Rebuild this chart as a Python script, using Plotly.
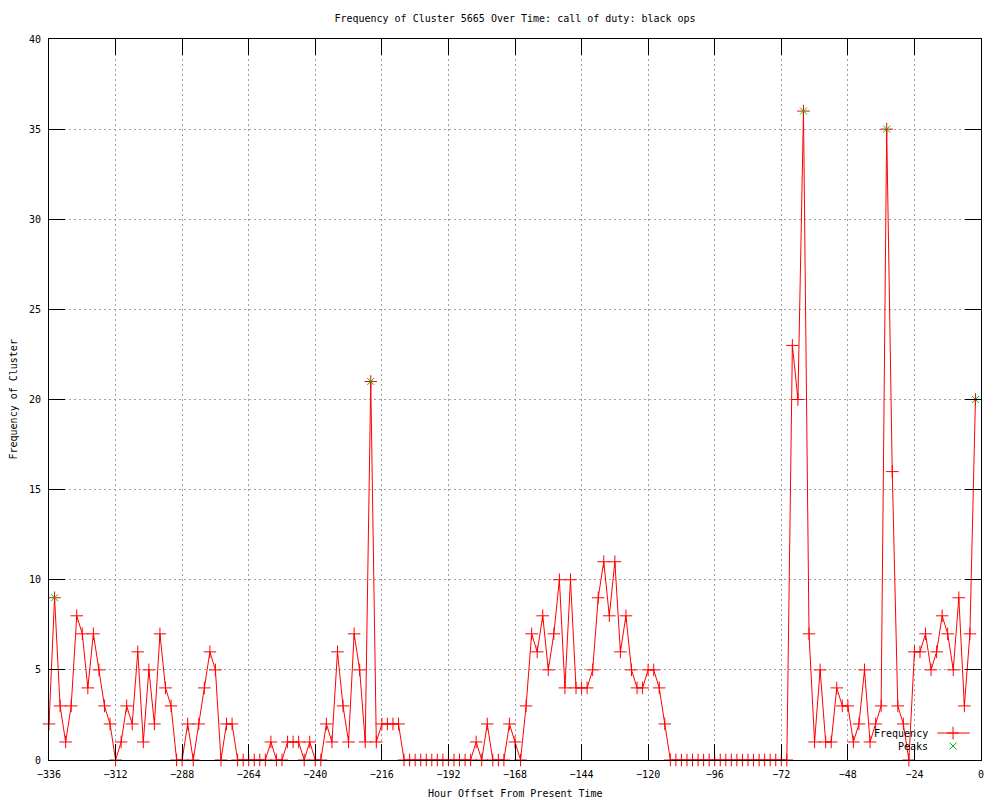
import plotly.graph_objects as go

# Hour offsets (every 2 hours) and cluster frequency values
hours = list(range(-336, 0, 2))
frequency = [
    2, 9, 3, 1, 3, 8, 7, 4, 7, 5, 3, 2, 0, 1, 3, 2, 6, 1, 5, 2, 7, 4, 3, 0, 0, 2, 0, 2, 4, 6, 5, 0,
    2, 2, 0, 0, 0, 0, 0, 0, 1, 0, 0, 1, 1, 1, 0, 1, 0, 0, 2, 1, 6, 3, 1, 7, 5, 1, 21, 1, 2, 2, 2, 2,
    0, 0, 0, 0, 0, 0, 0, 0, 0, 0, 0, 0, 0,
    1, 0, 2, 0, 0, 0, 2, 1, 0, 3, 7, 6, 8, 5, 7, 10, 4, 10, 4, 4, 4, 5, 9, 11, 8, 11, 6, 8, 5, 4, 4,
    5, 5, 4, 2,
    0, 0, 0, 0, 0, 0, 0, 0, 0, 0, 0, 0, 0, 0, 0, 0, 0, 0, 0, 0, 0, 0,
    23, 20, 36, 7, 1, 5, 1, 1, 4, 3, 3, 1, 2, 5, 1, 2, 3, 35, 16, 3, 2, 0, 6, 6, 7, 5, 6, 8, 7, 5,
    9, 3, 7, 20,
]
peak_hours = [-334, -220, -64, -34, -2]
peak_values = [9, 21, 36, 35, 20]

x_ticks = list(range(-336, 1, 24))
y_ticks = list(range(0, 41, 5))

RED = "#ff0000"
GREEN = "#00c000"
FONT = "DejaVu Sans Mono"

# the page body adds an 8px margin, so the figure is 992x792 placed at (8, 8)
FIG_W, FIG_H = 992, 792

fig = go.Figure()
fig.add_trace(go.Scatter(
    x=hours, y=frequency, mode="lines+markers", name="Frequency",
    line=dict(color=RED, width=1),
    marker=dict(symbol="cross-thin", size=9, line=dict(color=RED, width=1), color=RED),
    cliponaxis=False, showlegend=False,
))
fig.add_trace(go.Scatter(
    x=peak_hours, y=peak_values, mode="markers", name="Peaks",
    marker=dict(symbol="x-thin", size=7, line=dict(color=GREEN, width=1), color=GREEN),
    cliponaxis=False, showlegend=False,
))

# legend keys (gnuplot style: text left, sample right)
fig.add_trace(go.Scatter(
    x=[0.953, 0.970, 0.988], y=[0.0374, 0.0374, 0.0374], mode="lines",
    line=dict(color=RED, width=1), xaxis="x2", yaxis="y2", showlegend=False, hoverinfo="skip",
))
fig.add_trace(go.Scatter(
    x=[0.970], y=[0.0374], mode="markers",
    marker=dict(symbol="cross-thin", size=9, line=dict(color=RED, width=1)),
    xaxis="x2", yaxis="y2", showlegend=False, hoverinfo="skip",
))
fig.add_trace(go.Scatter(
    x=[0.970], y=[0.0194], mode="markers",
    marker=dict(symbol="x-thin", size=7, line=dict(color=GREEN, width=1)),
    xaxis="x2", yaxis="y2", showlegend=False, hoverinfo="skip",
))

axis_common = dict(
    showline=True, linecolor="black", linewidth=1, mirror="ticks",
    ticks="inside", ticklen=16, tickwidth=1, tickcolor="black",
    showgrid=True, gridcolor="#a0a0a0", griddash="2px,3px", gridwidth=1,
    zeroline=False, tickfont=dict(family=FONT, size=10, color="black"),
)

fig.update_layout(
    width=FIG_W, height=FIG_H,
    paper_bgcolor="white", plot_bgcolor="white",
    margin=dict(l=41, r=19, t=31, b=40),
    font=dict(family=FONT, size=10, color="black"),
    title=dict(text="Frequency of Cluster 5665 Over Time: call of duty: black ops",
               x=0.5, xref="paper", xanchor="center", y=1 - 10 / FIG_H, yanchor="middle",
               font=dict(family=FONT, size=10, color="black")),
    xaxis=dict(range=[-336, 0], tickvals=x_ticks, ticklabelstandoff=5, **axis_common),
    yaxis=dict(range=[0, 40], tickvals=y_ticks, ticklabelstandoff=5, **axis_common),
    xaxis2=dict(range=[0, 1], overlaying="x", visible=False, fixedrange=True),
    yaxis2=dict(range=[0, 1], overlaying="y", visible=False, fixedrange=True),
    showlegend=False,
    annotations=[
        dict(text="Hour Offset From Present Time", xref="paper", yref="paper",
             x=0.5, y=(760 - 793) / 721, xanchor="center", yanchor="middle",
             showarrow=False, font=dict(family=FONT, size=10, color="black")),
        dict(text="Frequency of Cluster", xref="paper", yref="paper",
             x=(13 - 49) / 932, y=0.5, xanchor="center", yanchor="middle", textangle=-90,
             showarrow=False, font=dict(family=FONT, size=10, color="black")),
        dict(text="Frequency", xref="paper", yref="paper",
             x=(930 - 49) / 932, y=0.0374, xanchor="right", yanchor="middle",
             showarrow=False, font=dict(family=FONT, size=10, color="black")),
        dict(text="Peaks", xref="paper", yref="paper",
             x=(930 - 49) / 932, y=0.0194, xanchor="right", yanchor="middle",
             showarrow=False, font=dict(family=FONT, size=10, color="black")),
    ],
)

fig.write_html("out.html")
